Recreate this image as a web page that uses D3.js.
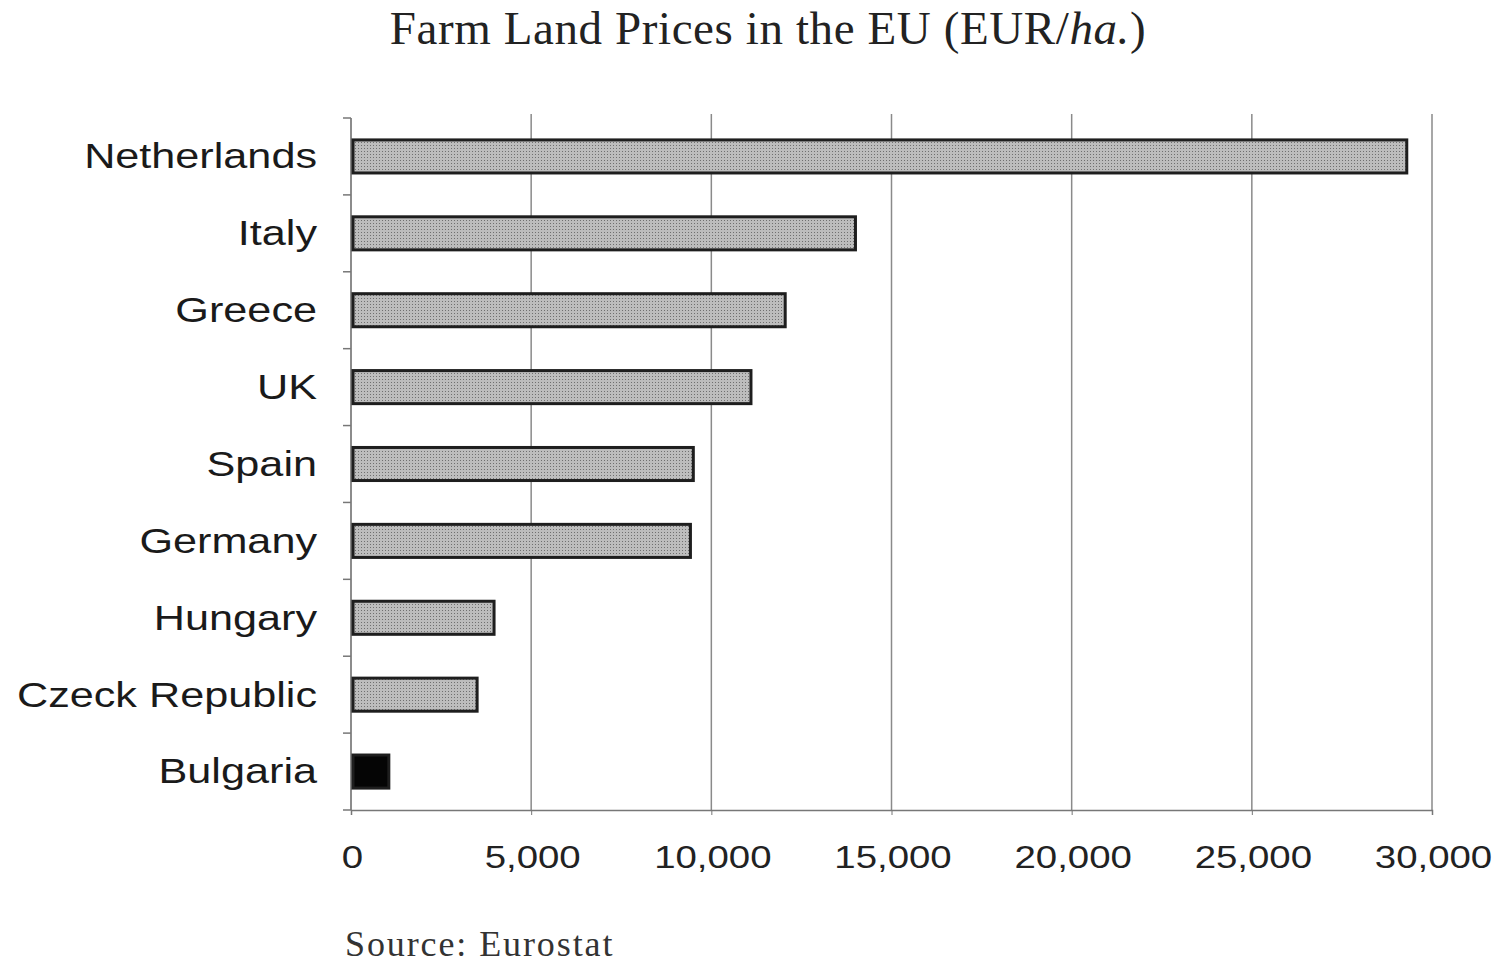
<meta charset="utf-8">
<style>body { margin: 0; }</style>
<svg width="1500" height="968"></svg>
<script src="https://d3js.org/d3.v7.min.js"></script>
<script>
var countries = ["Netherlands", "Italy", "Greece", "UK", "Spain", "Germany", "Hungary", "Czeck Republic", "Bulgaria"];
var prices = [29300, 14000, 12050, 11100, 9500, 9420, 3970, 3500, 1050];
var tickValues = [0, 5000, 10000, 15000, 20000, 25000, 30000];

var data = countries.map(function(c, i) { return { country: c, price: prices[i] }; });

var svg = d3.select("svg"),
    margin = {top: 118, right: 68, bottom: 158, left: 351},
    width = +svg.attr("width"),
    height = +svg.attr("height");

svg.append("rect").attr("width", width).attr("height", height).attr("fill", "#fff");

// stippled grey fill like the printed bars
var pat = svg.append("defs").append("pattern")
    .attr("id", "stipple")
    .attr("patternUnits", "userSpaceOnUse")
    .attr("width", 3).attr("height", 3);
pat.append("rect").attr("width", 3).attr("height", 3).attr("fill", "#bdbdbd");
pat.append("rect").attr("x", 1).attr("y", 1).attr("width", 1).attr("height", 1).attr("fill", "#707070");

var x = d3.scaleLinear()
    .domain([0, 30000])
    .range([margin.left, width - margin.right]);

var y = d3.scaleBand()
    .domain(countries)
    .range([margin.top, height - margin.bottom])
    .paddingInner(0.57)
    .paddingOuter(0.285);

var step = y.step();
var wide = " scale(1.2,1)";   // printed sans labels are set wide

// vertical grid lines
svg.append("g")
  .selectAll("line")
  .data(tickValues.slice(1))
  .enter().append("line")
    .attr("x1", function(d) { return x(d); })
    .attr("x2", function(d) { return x(d); })
    .attr("y1", margin.top - 4)
    .attr("y2", height - margin.bottom)
    .attr("stroke", "#8a8a8a")
    .attr("stroke-width", 1.5);

// bottom axis
var xAxis = svg.append("g")
    .attr("transform", "translate(0," + (height - margin.bottom) + ")")
    .call(d3.axisBottom(x).tickValues(tickValues).tickSize(5).tickFormat(d3.format(",")));
xAxis.select(".domain").attr("stroke", "#777").attr("stroke-width", 1.5);
xAxis.selectAll(".tick line").attr("stroke", "#777");
xAxis.selectAll("text")
    .attr("dy", null)
    .attr("y", 0)
    .attr("transform", "translate(1,58)" + wide)
    .attr("font-family", "Liberation Sans, Arial, sans-serif")
    .attr("font-size", "32px")
    .attr("fill", "#222");

// left axis line + ticks at band boundaries
svg.append("line")
    .attr("x1", margin.left).attr("x2", margin.left)
    .attr("y1", margin.top).attr("y2", height - margin.bottom)
    .attr("stroke", "#666").attr("stroke-width", 1.5);

var bounds = countries.map(function(c) { return y(c) - step * y.paddingInner() / 2; });
bounds.push(height - margin.bottom);
svg.append("g")
  .selectAll("line")
  .data(bounds)
  .enter().append("line")
    .attr("x1", margin.left - 8)
    .attr("x2", margin.left)
    .attr("y1", function(d) { return d; })
    .attr("y2", function(d) { return d; })
    .attr("stroke", "#777")
    .attr("stroke-width", 1.5);

// country labels
svg.append("g")
  .selectAll("text")
  .data(data)
  .enter().append("text")
    .attr("transform", function(d) {
      return "translate(" + (margin.left - 34) + "," + (y(d.country) + y.bandwidth() / 2) + ")" + wide;
    })
    .attr("dy", "0.33em")
    .attr("text-anchor", "end")
    .attr("font-family", "Liberation Sans, Arial, sans-serif")
    .attr("font-size", "36px")
    .attr("fill", "#1a1a1a")
    .text(function(d) { return d.country; });

// bars
svg.append("g")
  .selectAll("rect")
  .data(data)
  .enter().append("rect")
    .attr("x", x(0) + 2)
    .attr("y", function(d) { return y(d.country); })
    .attr("width", function(d) { return x(d.price) - x(0) - 2; })
    .attr("height", y.bandwidth())
    .attr("fill", function(d) { return d.country === "Bulgaria" ? "#050505" : "url(#stipple)"; })
    .attr("stroke", "#1e1e1e")
    .attr("stroke-width", 3);

// title
var title = svg.append("text")
    .attr("x", 768)
    .attr("y", 44)
    .attr("text-anchor", "middle")
    .attr("font-family", "Liberation Serif, Times New Roman, serif")
    .attr("font-size", "47px")
    .attr("letter-spacing", "0.6px")
    .attr("fill", "#222");
title.append("tspan").text("Farm Land Prices in the EU (EUR/");
title.append("tspan").attr("font-style", "italic").text("ha.");
title.append("tspan").text(")");

// source
svg.append("text")
    .attr("x", 345)
    .attr("y", 956)
    .attr("font-family", "Liberation Serif, Times New Roman, serif")
    .attr("font-size", "36px")
    .attr("letter-spacing", "1.9px")
    .attr("fill", "#333")
    .text("Source: Eurostat");
</script>
